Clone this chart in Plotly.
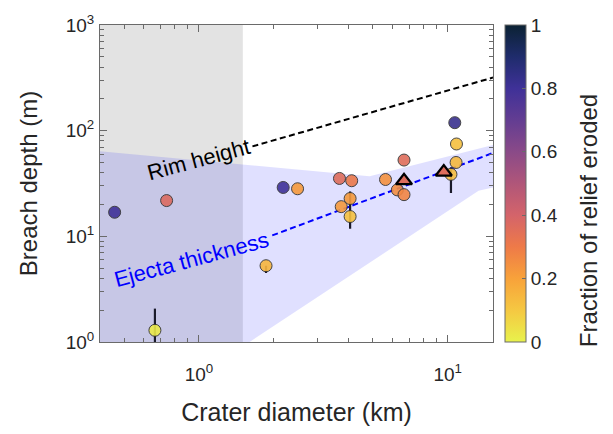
import numpy as np
import plotly.graph_objects as go

# ---------------- data ----------------
# circles: crater diameter (km), breach depth (m), fraction of relief eroded
circ_diam = [10.67, 10.84, 10.8, 10.3, 6.67, 5.62, 6.27, 6.67, 3.67, 4.11,
             2.18, 2.49, 0.741, 0.458, 4.05, 3.73, 4.05, 1.86, 0.665]
circ_depth = [119, 74.8, 50, 38.6, 52.7, 34.5, 27.5, 24.8, 35.3, 33.6,
              29, 28.2, 21.8, 16.9, 22.8, 19.1, 15.4, 5.27, 1.29]
circ_frac = [0.82, 0.12, 0.14, 0.13, 0.36, 0.24, 0.25, 0.27, 0.36, 0.31,
             0.80, 0.22, 0.37, 0.80, 0.22, 0.22, 0.12, 0.15, 0.02]
circ_depth_lo = [None, None, None, 25.7, None, None, None, None, None, None,
                 None, None, None, None, None, None, 11.8, 4.5, 0.7]
circ_depth_hi = [None, None, None, 45, None, None, None, None, None, None,
                 None, None, None, None, None, None, 26.6, 5.27, 2.07]

# triangles
tri_diam = [9.64, 6.67]
tri_depth = [40.6, 33.6]
tri_frac = [0.36, 0.36]

# model lines
rim_diam = [1.64, 15.2]
rim_height = [71, 318]
ejecta_diam = [1.97, 15.2]
ejecta_thick = [10.2, 61.5]

# ejecta-thickness uncertainty band
band_up_diam = [0.4, 4.85, 15.2]
band_up_val = [64, 37, 73]
band_lo_diam = [0.4, 13.3, 15.2]
band_lo_val = [0.116, 27, 29]

# small-crater region (gray)
small_crater_limit = 1.5
x_min, x_max = 0.4, 15.2
y_min, y_max = 1, 1000

cbar_ticks = [0, 0.2, 0.4, 0.6, 0.8, 1]
cbar_ticktext = ['0', '0.2', '0.4', '0.6', '0.8', '1']
x_tickvals = [1, 10]
x_ticktext = ['10<sup>0</sup>', '10<sup>1</sup>']
y_tickvals = [1, 10, 100, 1000]
y_ticktext = ['10<sup>0</sup>', '10<sup>1</sup>', '10<sup>2</sup>', '10<sup>3</sup>']

colorscale = [[0.0, '#e8f24c'], [0.1, '#f5c842'], [0.2, '#f8a23a'], [0.3, '#ee7a48'],
              [0.4, '#d4646a'], [0.5, '#b05679'], [0.6, '#8a4a88'], [0.7, '#633d92'],
              [0.8, '#3f3198'], [0.9, '#1f2c6c'], [1.0, '#0b2233']]

FONT = 'Liberation Sans, Arial, Helvetica, sans-serif'
TXT = '#262626'
AX = '#6a6a6a'

fig = go.Figure()

# gray region
fig.add_trace(go.Scatter(
    x=[x_min, small_crater_limit, small_crater_limit, x_min, x_min],
    y=[y_min * 0.5, y_min * 0.5, y_max * 2, y_max * 2, y_min * 0.5],
    fill='toself', fillcolor='#e3e3e3', line=dict(width=0),
    mode='lines', hoverinfo='skip', showlegend=False))

# band
band_x = band_up_diam + band_lo_diam[::-1] + [band_up_diam[0]]
band_y = band_up_val + band_lo_val[::-1] + [band_up_val[0]]
fig.add_trace(go.Scatter(
    x=band_x, y=band_y, fill='toself', fillcolor='rgba(0,0,255,0.12)',
    line=dict(width=0), mode='lines', hoverinfo='skip', showlegend=False))

# lines
fig.add_trace(go.Scatter(x=rim_diam, y=rim_height, mode='lines',
                         line=dict(color='black', width=2, dash='6px,3.5px'),
                         showlegend=False))
fig.add_trace(go.Scatter(x=ejecta_diam, y=ejecta_thick, mode='lines',
                         line=dict(color='#0000ff', width=2, dash='6px,3.5px'),
                         showlegend=False))

# error bars
err_plus = [(h - d) if h is not None else 0 for h, d in zip(circ_depth_hi, circ_depth)]
err_minus = [(d - l) if l is not None else 0 for l, d in zip(circ_depth_lo, circ_depth)]

fig.add_trace(go.Scatter(
    x=circ_diam, y=circ_depth, mode='markers',
    marker=dict(size=12, color=circ_frac, coloraxis='coloraxis', opacity=0.9,
                line=dict(color='#333333', width=1)),
    error_y=dict(type='data', symmetric=False, array=err_plus, arrayminus=err_minus,
                 color='#1a1a2a', thickness=2.2, width=0),
    showlegend=False))

fig.add_trace(go.Scatter(
    x=tri_diam, y=tri_depth, mode='markers',
    marker=dict(size=14, symbol='triangle-up', color=tri_frac, coloraxis='coloraxis',
                line=dict(color='black', width=2.2)),
    showlegend=False))

fig.add_annotation(x=np.log10(1.0), y=1.73, xref='x', yref='y', text='Rim height',
                   showarrow=False, textangle=-15,
                   font=dict(family=FONT, size=22, color='black'))
fig.add_annotation(x=-0.03, y=0.781, xref='x', yref='y', text='Ejecta thickness',
                   showarrow=False, textangle=-15,
                   font=dict(family=FONT, size=22, color='#0000ff'))

# colorbar title as a rotated annotation
fig.add_annotation(x=1.2417, y=0.384, xref='paper', yref='paper',
                   text='Fraction of relief eroded', showarrow=False, textangle=-90,
                   xanchor='center', yanchor='middle',
                   font=dict(family=FONT, size=24, color=TXT))

axis_common = dict(type='log', showgrid=False, zeroline=False, showline=True,
                   linecolor=AX, linewidth=1, mirror='ticks', ticks='inside',
                   ticklen=7, tickcolor=AX, tickwidth=1,
                   tickfont=dict(family=FONT, size=19, color=TXT),
                   minor=dict(ticks='inside', ticklen=4, tickcolor=AX, dtick='D1',
                              showgrid=False))

fig.update_layout(
    width=613, height=434,
    margin=dict(l=100, r=120, t=15, b=92),
    paper_bgcolor='white', plot_bgcolor='white',
    font=dict(family=FONT, color=TXT),
    xaxis=dict(**axis_common, range=[np.log10(x_min), np.log10(x_max)],
               tickmode='array', tickvals=x_tickvals, ticktext=x_ticktext,
               ticklabelstandoff=15,
               title=dict(text='Crater diameter (km)', font=dict(family=FONT, size=25, color=TXT),
                          standoff=19)),
    yaxis=dict(**axis_common, range=[np.log10(y_min), np.log10(y_max)],
               tickmode='array', tickvals=y_tickvals, ticktext=y_ticktext,
               ticklabelstandoff=1,
               title=dict(text='Breach depth (m)', font=dict(family=FONT, size=24, color=TXT),
                          standoff=21)),
    coloraxis=dict(colorscale=colorscale, cmin=0, cmax=1,
                   colorbar=dict(x=1.0305, xanchor='left', y=0.5, yanchor='middle',
                                 len=1, lenmode='fraction', thickness=21,
                                 xpad=0, ypad=0, outlinewidth=1, outlinecolor=AX,
                                 ticks='inside', ticklen=4, tickcolor=AX,
                                 tickvals=cbar_ticks, ticktext=cbar_ticktext,
                                 tickfont=dict(family=FONT, size=19, color=TXT))),
)

fig.write_html('out.html')
